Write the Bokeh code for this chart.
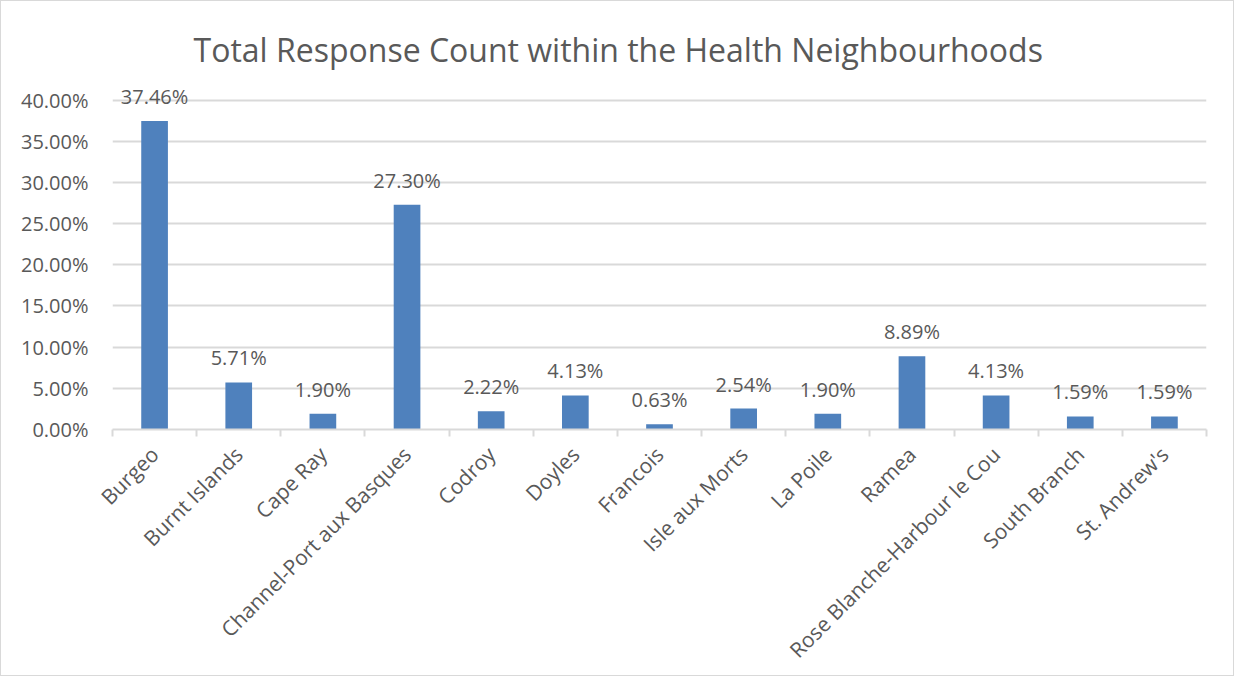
from bokeh.plotting import figure
from bokeh.models import ColumnDataSource, FixedTicker, Range1d, LabelSet
from bokeh.embed import file_html
from bokeh.resources import INLINE
from bokeh.core.properties import value

categories = ["Burgeo", "Burnt Islands", "Cape Ray", "Channel-Port aux Basques", "Codroy",
              "Doyles", "Francois", "Isle aux Morts", "La Poile", "Ramea",
              "Rose Blanche-Harbour le Cou", "South Branch", "St. Andrew's"]
percent_values = [37.46, 5.71, 1.90, 27.30, 2.22, 4.13, 0.63, 2.54, 1.90, 8.89, 4.13, 1.59, 1.59]
y_ticks = [0, 5, 10, 15, 20, 25, 30, 35, 40]

FONT = "Open Sans"
TXT = "#595959"
GRID = "#d9d9d9"

n = len(categories)
xs = [i + 0.5 for i in range(n)]
labels = ["%.2f%%" % v for v in percent_values]
src = ColumnDataSource(dict(x=xs, top=percent_values, label=labels))

p = figure(width=1234, height=676, output_backend="svg", toolbar_location=None,
           x_range=Range1d(0, n), y_range=Range1d(0, 42.5),
           min_border_left=111, min_border_right=29, min_border_top=78, min_border_bottom=248)
p.title.text = "Total Response Count within the Health Neighbourhoods"
p.title.align = "left"
p.title.text_font = FONT
p.title.text_font_style = "normal"
p.title.text_font_size = "32px"
p.title.text_color = TXT
p.title.offset = 81
p.title.standoff = 18

p.vbar(x="x", top="top", bottom=0, width=0.317, source=src, fill_color="#4f81bd", line_color=None)

lbl = LabelSet(x="x", y="top", text="label", source=src, text_align="center", text_baseline="bottom",
               y_offset=11, text_font=value(FONT), text_font_size="20px", text_color=TXT)
p.add_layout(lbl)

# x axis
xa = p.xaxis[0]
xa.ticker = FixedTicker(ticks=xs, minor_ticks=list(range(n + 1)))
xa.major_label_overrides = {x: c for x, c in zip(xs, categories)}
xa.major_label_orientation = 0.7854
xa.major_tick_line_color = None
xa.minor_tick_line_color = GRID
xa.minor_tick_line_width = 2
xa.minor_tick_in = 0
xa.minor_tick_out = 7
xa.axis_line_color = GRID
xa.axis_line_width = 2
xa.major_label_text_font = FONT
xa.major_label_text_font_size = "21px"
xa.major_label_text_color = TXT
xa.major_label_standoff = 14

# y axis
ya = p.yaxis[0]
ya.ticker = FixedTicker(ticks=y_ticks)
ya.major_label_overrides = {t: "%.2f%%" % t for t in y_ticks}
ya.axis_line_color = None
ya.major_tick_line_color = None
ya.minor_tick_line_color = None
ya.major_label_text_font = FONT
ya.major_label_text_font_size = "20px"
ya.major_label_text_color = TXT
ya.major_label_standoff = 18

p.xgrid.grid_line_color = None
p.ygrid.grid_line_color = GRID
p.ygrid.grid_line_width = 2
p.outline_line_color = None
p.styles = {"border": "1px solid #d9d9d9", "box-sizing": "border-box"}

open("out.html", "w").write(file_html(p, INLINE))
